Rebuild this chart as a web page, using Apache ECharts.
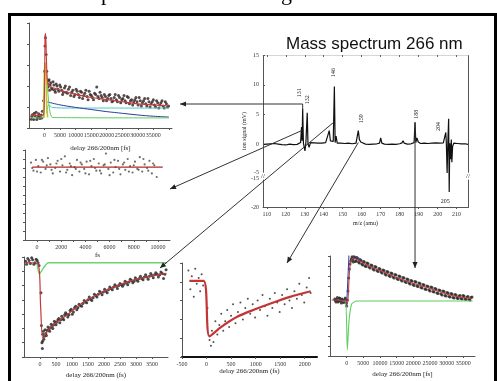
<!DOCTYPE html>
<html>
<head>
<meta charset="utf-8">
<script src="https://cdn.jsdelivr.net/npm/echarts@6/dist/echarts.min.js"></script>
<style>
html, body { margin: 0; padding: 0; background: #fff; }
#chart { width: 497px; height: 381px; }
</style>
</head>
<body>
<div id="chart"></div>
<script>
// top-left transient (delay in fs)
const p1Points = [[-4300,0.42],[-3900,0.63],[-3500,0.4],[-3100,0.58],[-2700,0.75],[-2300,0.5],[-1900,0.68],[-1500,0.45],[-1100,0.62],[-700,0.8],[-300,1.3],[0,2.7],[150,3.9],[300,4.3],[500,3.5],[700,2.7],[1000,2.1],[1300,2.25],[1600,1.8],[2000,2.15],[2500,1.85],[3000,2.05],[3500,1.7],[4000,2.0],[4600,1.75],[5200,1.95],[5800,1.6],[6400,1.9],[7000,1.7],[7700,1.85],[8400,1.55],[9100,1.8],[9800,1.6],[10500,1.75],[11200,1.45],[11900,1.7],[12600,1.55],[13300,1.8],[14000,1.35],[14700,1.6],[15400,1.45],[16100,1.65],[16800,1.95],[17500,1.4],[18200,1.55],[18900,1.3],[19600,1.5],[20300,1.4],[21000,1.6],[21700,1.25],[22400,1.45],[23100,1.35],[23800,1.55],[24500,1.2],[25200,1.4],[25900,1.3],[26600,1.5],[27300,1.15],[28000,1.35],[28700,1.25],[29400,1.45],[30100,1.1],[30800,1.3],[31500,1.2],[32200,1.4],[32900,1.05],[33600,1.25],[34300,1.15],[35000,1.35],[35700,1.0],[36400,1.2],[37100,1.1],[37800,1.3],[38500,0.95],[39200,1.15],[39900,1.05],
  [-4100,0.55],[-3300,0.7],[-2500,0.4],[-1700,0.55],[-900,0.48],[1150,1.95],[1450,2.3],[1800,2.05],[2250,1.9],[2750,2.2],[3250,1.8],[3750,2.1],[4300,1.85],[4900,2.05],[5500,1.8],[6100,1.7],[6700,2.0],[7350,1.65],[8050,1.95],[8750,1.7],[9450,1.5],[10150,1.85],[10850,1.6],[11550,1.75],[12250,1.4],[12950,1.65],[13650,1.5],[14350,1.75],[15050,1.55],[15750,1.35],[16450,1.6],[17150,1.5],[17850,1.7],[18550,1.45],[19250,1.6],[19950,1.3],[20650,1.55],[21350,1.4],[22050,1.3],[22750,1.6],[23450,1.25],[24150,1.45],[24850,1.35],[25550,1.55],[26250,1.2],[26950,1.45],[27650,1.3],[28350,1.1],[29050,1.35],[29750,1.25],[30450,1.45],[31150,1.05],[31850,1.3],[32550,1.15],[33250,1.4],[33950,1.0],[34650,1.25],[35350,1.1],[36050,1.3],[36750,0.95],[37450,1.2],[38150,1.05],[38850,1.25],[39550,1.0]];
const p1Fit = [[-4500,0.6],[-400,0.62],[0,2.0],[150,4.4],[350,4.5],[600,3.3],[900,2.3],[1500,2.0],[3000,1.9],[6000,1.75],[10000,1.6],[15000,1.45],[20000,1.35],[25000,1.25],[30000,1.15],[35000,1.1],[40000,1.05]];
const p1Blue = [[900,1.24],[5000,1.1],[10000,0.98],[15000,0.88],[20000,0.78],[25000,0.7],[30000,0.62],[35000,0.56],[40000,0.52]];
const p1Cyan = [[700,0.7],[1300,1.1],[2500,0.98],[8000,0.95],[20000,0.95],[40000,0.95]];
const p1Green = [[-4500,0.48],[-200,0.48],[100,3.1],[500,2.8],[1500,1.0],[2600,0.5],[40000,0.48]];
const p1Yellow = [[-300,0.5],[0,3.1],[400,3.0],[700,1.0],[1000,0.5]];

// middle-left
const p2Points = [[-500,8.6],[-300,7.7],[-100,8.9],[100,8.2],[300,7.5],[500,8.7],[700,7.9],[900,9.1],[1100,8.4],[1300,7.4],[1500,8.0],[1700,8.8],[1900,7.6],[2100,8.3],[2300,9.3],[2500,7.8],[2700,8.5],[2900,7.2],[3100,8.1],[3300,8.9],[3500,7.6],[3700,8.4],[3900,7.9],[4100,8.7],[4300,7.3],[4500,8.2],[4700,9.0],[4900,7.7],[5100,8.5],[5300,7.4],[5500,8.3],[5700,9.6],[5900,7.9],[6100,8.6],[6300,7.5],[6500,8.1],[6700,8.8],[6900,7.3],[7100,8.4],[7300,7.8],[7500,9.0],[7700,8.2],[7900,7.5],[8100,8.7],[8300,7.9],[8500,9.2],[8700,7.6],[8900,8.4],[9100,8.0],[9300,8.8],[9500,7.4],[9700,8.3],[9900,7.0],
  [-400,8.0],[0,7.6],[400,8.9],[800,8.3],[1200,7.8],[1600,8.5],[2000,9.0],[2400,7.5],[2800,8.2],[3200,7.9],[3600,8.6],[4000,7.4],[4400,8.8],[4800,8.0],[5200,7.7],[5600,8.4],[6000,7.2],[6400,8.9],[6800,7.9],[7200,8.6],[7600,7.6],[8000,8.3],[8400,7.8],[8800,9.0],[9200,7.7],[9600,8.5]];
const p2Fit = [[-400,8.1],[10400,8.1]];

// bottom-left
const p3Points = [[-450,6.7],[-380,6.9],[-300,6.55],[-230,6.8],[-160,6.6],[-90,6.75],[-30,6.4],[30,4.5],[60,1.0],[75,0.6],[90,1.6],[120,1.25],[160,1.9],[200,1.5],[250,2.1],[300,1.8],[350,2.3],[400,2.0],[450,2.5],[500,2.25],[560,2.6],[620,2.4],[680,2.85],[740,2.6],[800,3.1],[870,2.8],[940,3.25],[1010,3.0],[1080,3.45],[1150,3.3],[1220,3.7],[1300,3.55],[1380,3.95],[1460,3.8],[1540,4.2],[1620,3.95],[1700,4.4],[1780,4.2],[1860,4.6],[1940,4.35],[2020,4.75],[2100,4.5],[2180,4.9],[2260,4.7],[2340,5.05],[2420,4.8],[2500,5.15],[2580,4.95],[2660,5.3],[2740,5.05],[2820,5.45],[2900,5.2],[2980,5.55],[3060,5.3],[3140,5.65],[3220,5.4],[3300,5.75],[3380,5.45],[3460,5.85],[3540,5.55],[3620,5.9],[3700,5.6],[3780,5.95],[3860,5.5],[3940,6.1],
  [-420,6.5],[-340,6.75],[-260,6.95],[-190,6.5],[-120,6.85],[-60,6.6],[45,2.2],[80,1.1],[105,1.8],[140,1.45],[180,1.65],[225,1.85],[275,1.95],[325,2.05],[375,2.15],[425,2.25],[475,2.4],[530,2.45],[590,2.7],[650,2.6],[710,2.7],[770,2.95],[835,3.0],[905,2.95],[975,3.35],[1045,3.15],[1115,3.55],[1185,3.45],[1260,3.6],[1340,3.75],[1420,3.85],[1500,4.0],[1580,4.05],[1660,4.15],[1740,4.3],[1820,4.4],[1900,4.5],[1980,4.55],[2060,4.6],[2140,4.7],[2220,4.8],[2300,4.9],[2380,4.95],[2460,5.0],[2540,5.05],[2620,5.1],[2700,5.2],[2780,5.25],[2860,5.35],[2940,5.3],[3020,5.4],[3100,5.5],[3180,5.5],[3260,5.6],[3340,5.6],[3420,5.65],[3500,5.7],[3580,5.75],[3660,5.8],[3740,5.75],[3820,5.85],[3900,5.8]];
const p3Fit = [[-450,6.6],[-60,6.5],[20,3.5],[90,1.3],[200,1.7],[312,2.03],[500,2.4],[844,2.94],[1300,3.75],[1875,4.48],[2400,4.98],[2906,5.38],[3450,5.65],[3950,5.85]];
const p3Green = [[-100,6.6],[-20,5.8],[100,6.2],[260,6.6],[3970,6.6]];

// bottom-middle
const p4Points = [[-370,4.6],[-330,3.6],[-300,4.3],[-260,3.2],[-230,4.7],[-200,3.9],[-160,4.2],[-130,3.5],[-100,4.4],[-70,3.8],[20,2.6],[60,0.9],[90,0.6],[110,1.4],[140,0.8],[180,1.9],[220,1.2],[260,1.7],[300,2.3],[340,1.4],[380,1.9],[420,2.5],[460,1.6],[500,2.2],[540,2.8],[590,1.8],[640,2.4],[690,2.9],[740,2.0],[790,2.6],[840,3.1],[890,2.3],[940,2.8],[990,2.1],[1040,3.0],[1090,2.5],[1140,3.3],[1190,2.7],[1240,2.2],[1290,3.1],[1340,2.6],[1390,3.4],[1440,2.9],[1490,2.4],[1540,3.3],[1590,2.8],[1640,3.6],[1690,3.0],[1740,2.6],[1790,3.5],[1840,3.1],[1890,3.9],[1940,3.3],[1990,2.9],[2040,3.7],[2090,4.2],[2120,3.4]];
const p4Fit = [[-350,4.05],[-60,4.05],[60,1.1],[300,1.6],[633,2.15],[1000,2.55],[1306,2.85],[1700,3.2],[2122,3.5]];

// bottom-right
const p5Points = [[-3600,5.7],[-3200,5.4],[-2800,5.85],[-2400,5.5],[-2000,5.75],[-1600,5.3],[-1200,5.6],[-800,5.45],[-400,5.8],[0,5.0],[400,6.5],[800,8.7],[1200,9.5],[1600,9.9],[2000,9.4],[2400,9.8],[2800,9.5],[3300,9.7],[3800,9.3],[4300,9.55],[4800,9.1],[5300,9.4],[5800,8.95],[6400,9.25],[7000,8.8],[7600,9.05],[8200,8.6],[8800,8.9],[9400,8.45],[10000,8.7],[10600,8.3],[11200,8.55],[11800,8.1],[12400,8.4],[13000,7.95],[13600,8.25],[14200,7.8],[14800,8.1],[15400,7.65],[16000,7.95],[16600,7.5],[17200,7.8],[17800,7.35],[18400,7.65],[19000,7.2],[19600,7.5],[20200,7.05],[20800,7.4],[21400,6.95],[22000,7.25],[22600,6.8],[23200,7.1],[23800,6.65],[24400,6.95],[25000,6.5],[25600,6.85],[26200,6.4],[26800,6.7],[27400,6.25],[28000,6.55],[28600,6.1],[29200,6.45],[29800,6.0],[30400,6.3],[31000,5.9],[31600,6.2],[32200,5.8],[32800,6.1],[33400,5.75],[34000,6.05],[34600,5.7],[35200,6.0],[35800,5.65],[36400,5.95],[37000,5.6],[37600,5.9],
  [-3400,5.55],[-3000,5.65],[-2600,5.4],[-2200,5.8],[-1800,5.5],[-1400,5.7],[-1000,5.35],[-600,5.65],[-200,5.3],[200,5.6],[600,7.8],[1000,9.2],[1400,9.7],[1800,9.6],[2200,9.9],[2600,9.45],[3050,9.85],[3550,9.4],[4050,9.6],[4550,9.2],[5050,9.45],[5550,9.0],[6100,9.3],[6700,8.9],[7300,9.1],[7900,8.7],[8500,8.95],[9100,8.55],[9700,8.75],[10300,8.4],[10900,8.6],[11500,8.2],[12100,8.45],[12700,8.05],[13300,8.3],[13900,7.9],[14500,8.15],[15100,7.75],[15700,8.0],[16300,7.6],[16900,7.85],[17500,7.45],[18100,7.7],[18700,7.3],[19300,7.55],[19900,7.15],[20500,7.45],[21100,7.0],[21700,7.3],[22300,6.85],[22900,7.15],[23500,6.7],[24100,7.0],[24700,6.6],[25300,6.9],[25900,6.45],[26500,6.75],[27100,6.3],[27700,6.6],[28300,6.2],[28900,6.5],[29500,6.05],[30100,6.35],[30700,5.95],[31300,6.25],[31900,5.85],[32500,6.15],[33100,5.8],[33700,6.0],[34300,5.75],[34900,6.05],[35500,5.7],[36100,5.9],[36700,5.65],[37300,5.85]];
const p5Fit = [[-4500,5.6],[-300,5.5],[200,5.2],[1000,9.0],[2000,9.8],[3500,9.6],[6000,9.1],[10400,8.5],[15000,7.85],[20200,7.25],[25000,6.75],[30400,6.15],[34000,5.9],[37600,5.75]];
const p5Blue = [[0,5.1],[700,10.2],[2500,10.0],[4500,9.65]];
const p5Green = [[-1200,5.5],[-300,5.5],[200,0.6],[700,3.5],[1500,5.2],[3000,5.5],[37800,5.5]];

// mass spectrum, m/z vs ion signal (mV)
const spectrum = [[108.5,0],[110,0.05],[111,-0.15],[112,0.1],[113,-0.05],[114,0.15],[115,-0.1],[116,0.05],[117,0.2],[118,-0.05],[119,0.1],[120,-0.1],[121,0.15],[122,0.05],[123,0.2],[124,-0.05],[125,0.15],[126,0],[127,0.2],[127.8,0.3],[128.3,2.9],[128.6,0.6],[128.9,6.0],[129.3,0.2],[130.1,-1.1],[130.6,0.3],[131.0,0.1],[131.3,5.3],[131.7,0.1],[132.3,-0.5],[133,0.3],[134,0.05],[135,0.25],[136,0],[137,0.2],[138,0.05],[139,0.2],[140,0.1],[141,0.3],[142,0.45],[142.9,2.3],[143.5,0.6],[144.3,0.4],[145.0,0.5],[145.6,9.7],[146.0,0.3],[146.5,1.4],[147.1,0.2],[148,0.05],[149,0.2],[150,0],[151,0.15],[152,0.05],[153,0.2],[154,-0.05],[155,0.1],[156,0.05],[157,0.2],[157.7,0.3],[158.2,2.3],[158.8,0.8],[159.5,0.4],[160.5,0.2],[162,0.05],[163,0.2],[164,0],[165,0.15],[166,0.05],[167,0.2],[168,0.1],[169.4,0.2],[170,1.1],[170.6,0.2],[172,0.05],[173,0.2],[174,0],[175,0.15],[176,0.05],[177,0.2],[178,0],[179,0.15],[180,0.1],[181.2,0.25],[181.8,0.6],[182.4,0.2],[184,0.05],[185,0.2],[186,0.1],[187,0.2],[187.6,0.3],[188.1,3.7],[188.5,0.3],[189.1,1.1],[189.8,0.4],[191,0.15],[192,0.05],[193,0.2],[194,0],[195,0.15],[196,0.05],[197,0.2],[198,0.1],[199,0.25],[200,0.05],[201,0.2],[202,0.1],[203,0.25],[203.8,0.3],[204.3,2.0],[204.6,0.1],[205.0,-4.8],[205.4,0.5],[205.8,4.3],[206.1,-17.5],[206.4,0.2],[206.8,-2.5],[207.2,0.8],[207.5,-3.0],[207.9,-0.3],[208.5,0.2],[209.5,-0.05],[210.5,0.15],[211.5,0],[212.5,0.1],[213.5,-0.05],[214.5,0.1],[216,0]];
const specXTicks = [110,120,130,140,150,160,170,180,190,200,210];
// [label, m/z, signal, dx, dy, rotated]
const peakLabels = [['131',128.9,6.0,-3,-16,true],['132',131.3,5.3,0,-13,true],['146',145.6,9.7,-1,-14,true],['159',158.2,2.3,3,-12,true],['188',188.1,3.7,1,-8,true],['204',204.3,2.0,-7,-6,true],['205',206.1,-17.5,-4,9,false]];

const serif = 'Liberation Serif';
const axisCol = '#555';

function xAx(grid, min, max, interval, name, nameGap, label) {
  return {
    gridIndex: grid, type: 'value', min: min, max: max, interval: interval,
    name: name, nameLocation: 'middle', nameGap: nameGap,
    nameTextStyle: { fontFamily: serif, fontSize: 7, color: '#222' },
    axisLine: { onZero: false, lineStyle: { color: axisCol, width: 1 } },
    axisTick: { length: 2, lineStyle: { color: axisCol } },
    axisLabel: Object.assign({ fontFamily: serif, fontSize: 6, color: '#333', margin: 4,
      showMinLabel: false, showMaxLabel: false, formatter: v => String(v) }, label || {}),
    splitLine: { show: false }
  };
}

function yAx(grid, min, max, interval) {
  return {
    gridIndex: grid, type: 'value', min: min, max: max, interval: interval,
    axisLine: { onZero: false, lineStyle: { color: axisCol, width: 1 } },
    axisTick: { length: 2, lineStyle: { color: axisCol } },
    axisLabel: { show: false },
    splitLine: { show: false }
  };
}

function dots(grid, data, color, size) {
  return { type: 'scatter', xAxisIndex: grid, yAxisIndex: grid, data: data, symbolSize: size || 3,
    itemStyle: { color: color || '#2b2b2b', opacity: 0.85 }, silent: true };
}

function curve(grid, data, color, width, smooth) {
  return { type: 'line', xAxisIndex: grid, yAxisIndex: grid, data: data, showSymbol: false,
    smooth: smooth === undefined ? 0.3 : smooth, lineStyle: { color: color, width: width || 1 }, z: 3, silent: true };
}

const chart = echarts.init(document.getElementById('chart'));

const specX = xAx(5, 108, 216, null, 'm/z (amu)', 13, { customValues: specXTicks, showMinLabel: true, showMaxLabel: true });
specX.axisTick = { customValues: specXTicks, length: 2, lineStyle: { color: axisCol } };
specX.nameTextStyle = { fontFamily: serif, fontSize: 6, color: '#222' };

const option = {
  animation: false,
  backgroundColor: '#fff',
  title: {
    text: 'Mass spectrum 266 nm',
    left: 281, top: 31,
    textStyle: { fontFamily: 'Liberation Sans', fontSize: 17, fontWeight: 'normal', color: '#111' }
  },
  grid: [
    { left: 29, top: 23, width: 143, height: 105 },
    { left: 25, top: 150, width: 145, height: 90 },
    { left: 24, top: 257, width: 144, height: 100 },
    { left: 182, top: 263, width: 135, height: 94 },
    { left: 330, top: 256, width: 145, height: 100 },
    { left: 263, top: 55, width: 205, height: 152 }
  ],
  xAxis: [
    xAx(0, -5000, 41000, 5000, 'delay 266/200nm [fs]', 17, { formatter: v => (v <= 35000 ? String(v) : '') }),
    xAx(1, -1000, 11000, 1000, 'fs', 12, { formatter: v => (v % 2000 === 0 ? String(v) : '') }),
    xAx(2, -500, 4000, 500, 'delay 266/200nm (fs)', 15),
    Object.assign(xAx(3, -500, 2250, 500, 'delay 266/200nm (fs)', 10, { showMinLabel: true }),
      { axisLine: { onZero: false, lineStyle: { color: '#111', width: 2 } } }),
    xAx(4, -5000, 38500, 5000, 'delay 266/200nm [fs]', 15),
    specX,
    {
      gridIndex: 5, type: 'value', position: 'top', min: 108, max: 216,
      axisLine: { onZero: false, lineStyle: { color: '#bbb', width: 0.6 } },
      axisTick: { inside: true, length: 2, customValues: specXTicks, lineStyle: { color: '#666' } },
      axisLabel: { show: false }, splitLine: { show: false }
    }
  ],
  yAxis: [
    yAx(0, 0, 5, 1),
    yAx(1, 0, 10, 1),
    yAx(2, 0, 7, 1),
    yAx(3, 0, 5, 1),
    yAx(4, 0, 10, 1),
    {
      gridIndex: 5, type: 'value', min: -20, max: 15, interval: 5,
      breaks: [{ start: -15, end: -5, gap: '2%' }],
      breakArea: { show: false },
      name: 'ion signal (mV)', nameLocation: 'middle', nameGap: 14,
      nameTextStyle: { fontFamily: serif, fontSize: 6, color: '#222' },
      axisLine: { onZero: false, lineStyle: { color: axisCol, width: 1 } },
      axisTick: { inside: true, length: 2, lineStyle: { color: axisCol } },
      axisLabel: { fontFamily: serif, fontSize: 6, color: '#333', margin: 4 },
      splitLine: { show: false }
    },
    {
      gridIndex: 5, type: 'value', position: 'right', min: -20, max: 15,
      breaks: [{ start: -15, end: -5, gap: '2%' }],
      breakArea: { show: false },
      axisLine: { onZero: false, lineStyle: { color: axisCol, width: 1 } },
      axisTick: { show: false }, axisLabel: { show: false }, splitLine: { show: false }
    }
  ],
  series: [
    dots(0, p1Points, '#3a2a2a', 3),
    curve(0, p1Cyan, '#4cc6c6', 1),
    curve(0, p1Blue, '#2c3c9c', 1),
    curve(0, p1Green, '#5ccf5c', 1, 0.2),
    curve(0, p1Yellow, '#c9c236', 1.6, 0.2),
    curve(0, p1Fit, '#c8393b', 1.1, 0.25),

    dots(1, p2Points, '#555', 2.2),
    curve(1, p2Fit, '#b52626', 1.4, false),

    dots(2, p3Points, '#2b2b2b', 3),
    curve(2, p3Green, '#6fd26f', 1.4, 0.2),
    curve(2, p3Fit, '#c03a3a', 1.2, 0.3),

    dots(3, p4Points, '#333', 2),
    curve(3, p4Fit, '#c43434', 2.2, 0.3),

    dots(4, p5Points, '#2e2a2a', 3),
    curve(4, p5Green, '#5fcf5f', 1.1, 0.2),
    curve(4, p5Blue, '#3040a8', 1, false),
    curve(4, p5Fit, '#b83c3c', 1.1, 0.3),

    { type: 'line', xAxisIndex: 5, yAxisIndex: 5, data: spectrum, showSymbol: false,
      lineStyle: { color: '#111', width: 1.2 }, silent: true }
  ]
};

chart.setOption(option);

// annotations: frame, cut caption, peak labels, axis-break marks, arrows from peaks to panels
const toPx = v => chart.convertToPixel({ gridIndex: 5 }, v);
const g = [];

g.push({ type: 'rect', shape: { x: 9.5, y: 14.5, width: 486, height: 380 },
  style: { fill: 'none', stroke: '#000', lineWidth: 3 }, silent: true });
g.push({ type: 'text', x: 101, y: -17, style: { text: 'p', font: '22px Liberation Serif', fill: '#000' } });
g.push({ type: 'text', x: 281, y: -17, style: { text: 'g', font: '22px Liberation Serif', fill: '#000' } });

peakLabels.forEach(([txt, mz, v, dx, dy, rot]) => {
  const p = toPx([mz, v]);
  g.push({ type: 'text', x: p[0] + dx, y: p[1] + dy, rotation: rot ? Math.PI / 2 : 0,
    style: { text: txt, font: '6px Liberation Serif', fill: '#222', align: 'center', verticalAlign: 'middle' } });
});

const brk = toPx([108, -5]);
const brkR = toPx([216, -5]);
[brk, brkR].forEach(p => {
  g.push({ type: 'text', x: p[0], y: p[1] + 2, z: 60,
    style: { text: '//', font: '7px Liberation Serif', fill: '#333', backgroundColor: '#fff', align: 'center', verticalAlign: 'middle' } });
});

function arrow(points) {
  const n = points.length;
  const [x1, y1] = points[n - 2];
  const [x2, y2] = points[n - 1];
  const a = Math.atan2(y2 - y1, x2 - x1);
  const L = 6, W = 2.6;
  g.push({ type: 'polyline', shape: { points: points }, style: { stroke: '#333', lineWidth: 1, fill: 'none' }, z: 50 });
  g.push({ type: 'polygon', z: 50, shape: { points: [[x2, y2],
    [x2 - L * Math.cos(a) + W * Math.sin(a), y2 - L * Math.sin(a) - W * Math.cos(a)],
    [x2 - L * Math.cos(a) - W * Math.sin(a), y2 - L * Math.sin(a) + W * Math.cos(a)]] },
    style: { fill: '#222' } });
}

const a131 = toPx([128.9, 6.0]);
arrow([a131, [a131[0], 104], [180, 104]]);
arrow([toPx([128.3, 2.3]), [170, 189]]);
arrow([toPx([145.6, 3.8]), [160, 268]]);
arrow([toPx([158.2, 0.3]), [287, 263]]);
const a188 = toPx([188.1, 3.7]);
arrow([a188, [a188[0], 268]]);

chart.setOption({ graphic: g });
</script>
</body>
</html>
